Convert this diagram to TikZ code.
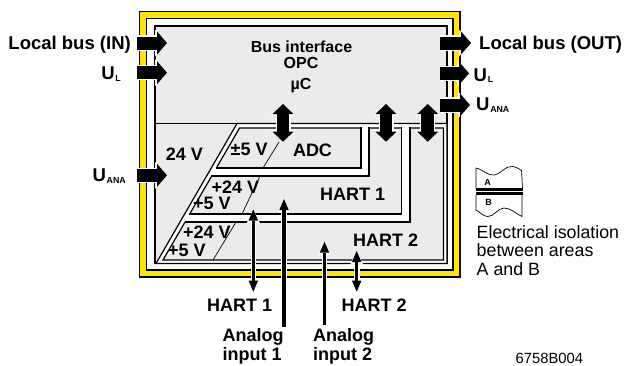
\documentclass[tikz,border=0pt]{standalone}
\usepackage{fontspec}
\setmainfont{Liberation Sans}
\usetikzlibrary{arrows.meta}
\definecolor{ybar}{RGB}{255,230,0}
\definecolor{regiongrey}{RGB}{235,235,235}
\newcommand\lowsub[1]{\kern0.7pt\raisebox{-1.6pt}{\fontsize{8.8}{9}\selectfont\bfseries #1}}
\begin{document}
\begin{tikzpicture}[x=1pt,y=-1pt,
  frameline/.style={draw=black, line width=1.3pt},
  region/.style={draw=black, line width=1.2pt, fill=regiongrey},
  gapfill/.style={fill=white, draw=black, line width=1.2pt},
  bandfill/.style={fill=white},
  edge/.style={draw=black, line width=1.2pt},
  thinline/.style={draw=black, line width=0.7pt},
  lbl/.style={font=\fontsize{18}{18.3}\selectfont\bfseries, inner sep=0pt},
  lblbig/.style={font=\fontsize{18.5}{19}\selectfont\bfseries, inner sep=0pt},
  lblsm/.style={font=\fontsize{16}{17}\selectfont\bfseries, inner sep=0pt},
  txt/.style={font=\fontsize{17.8}{18.5}\selectfont, inner sep=0pt},
  txtsm/.style={font=\fontsize{14.8}{15}\selectfont, inner sep=0pt},
  abl/.style={font=\fontsize{9}{9}\selectfont\bfseries, inner sep=0pt},
  bigarr/.style={line width=13pt, -{Triangle[width=23pt,length=10pt,line width=0pt]},
    preaction={draw=white, line width=15.4pt, -{Triangle[width=27pt,length=12pt,line width=0pt]}}},
  dblarr/.style={line width=12.5pt,
    {Triangle[width=21pt,length=10pt,line width=0pt]}-{Triangle[width=21pt,length=10pt,line width=0pt]},
    preaction={draw=white, line width=15pt,
      {Triangle[width=25pt,length=12pt,line width=0pt]}-{Triangle[width=25pt,length=12pt,line width=0pt]}}},
  thinarr/.style={line width=3.2pt, -{Triangle[width=9.5pt,length=11pt,line width=0pt]},
    preaction={draw=white, line width=5.6pt, -{Triangle[width=13pt,length=13.5pt,line width=0pt]}}},
  thindbl/.style={line width=3.2pt,
    {Triangle[width=9.5pt,length=11pt,line width=0pt]}-{Triangle[width=9.5pt,length=11pt,line width=0pt]},
    preaction={draw=white, line width=5.6pt,
      {Triangle[width=13pt,length=13.5pt,line width=0pt]}-{Triangle[width=13pt,length=13.5pt,line width=0pt]}}}
]
\useasboundingbox (0,0) rectangle (626,365);

% yellow isolation frame
\draw[frameline, fill=ybar] (139.5,11.5) rectangle (460,277);
\draw[frameline, fill=white] (146.5,18.5) rectangle (453,270);

% grey module box (bus interface + 24 V area)
\draw[region] (155,26) rectangle (447,263.5);
\draw[edge] (155,123.5) -- (237,123.5);
% isolation gap around the analog area
\draw[gapfill] (156,263.5) -- (237,123.5) -- (447,123.5) -- (447,263.5) -- cycle;
% analog area (HART 2 region)
\draw[region] (163,260) -- (239.56,128) -- (443.5,128) -- (443.5,260) -- cycle;

% gap around ADC
\fill[bandfill] (361,126.6) -- (369,126.6) -- (369,176) -- (210.0,176) -- (214.7,168) -- (361,168) -- cycle;
\draw[edge] (361,127.4) -- (361,168) -- (215.9,168);
\draw[edge] (369,127.4) -- (369,176) -- (211.2,176);
% gap around HART 1
\fill[bandfill] (401.5,126.6) -- (410,126.6) -- (410,222) -- (183.4,222) -- (188.0,214) -- (401.5,214) -- cycle;
\draw[edge] (401.5,127.4) -- (401.5,214) -- (189.2,214);
\draw[edge] (410,127.4) -- (410,222) -- (184.6,222);

% thin separating strokes
\draw[thinline] (279,142) -- (263,168);
\draw[thinline] (260,176) -- (242,214);
\draw[thinline] (236,222) -- (213,260);

% labels inside
\node[lblsm, anchor=base] (bus) at (301.5,52.3) {Bus interface};
\node[lblsm, anchor=base] (opc) at (301,68.3) {OPC};
\node[lblsm, anchor=base] (uc) at (301,89.3) {µC};
\node[lbl, anchor=base] (v24) at (184.5,160) {24 V};
\node[lbl, anchor=base west] (pm5) at (230.5,155) {±5 V};
\node[lbl, anchor=base] (adc) at (312.5,156.7) {ADC};
\node[lbl, anchor=base west] (p24a) at (211.5,193.3) {+24 V};
\node[lbl, anchor=base west] (p5a) at (193,209.3) {+5 V};
\node[lbl, anchor=base west] (p24b) at (183,238.3) {+24 V};
\node[lbl, anchor=base west] (p5b) at (168,256) {+5 V};
\node[lbl, anchor=base west] (h1in) at (320,200) {HART 1};
\node[lbl, anchor=base west] (h2in) at (353,246.7) {HART 2};

% labels outside
\node[lblbig, anchor=base east] (lbin) at (131,49.3) {Local bus (IN)};
\node[lblbig, anchor=base east] (ulin) at (121,79.5) {U\lowsub{L}};
\node[lblbig, anchor=base east] (uanain) at (126,181.7) {U\lowsub{ANA}};
\node[lblbig, anchor=base west] (lbout) at (479,49.3) {Local bus (OUT)};
\node[lblbig, anchor=base west] (ulout) at (473.5,81) {U\lowsub{L}};
\node[lblbig, anchor=base west] (uanaout) at (476,110.5) {U\lowsub{ANA}};
\node[lbl, anchor=base west] (h1out) at (207,311.7) {HART 1};
\node[lbl, anchor=base west] (h2out) at (341.5,311.7) {HART 2};
\node[lbl, anchor=base west, align=left] (an1) at (222.5,360) {Analog\\input 1};
\node[lbl, anchor=base west, align=left] (an2) at (313,360) {Analog\\input 2};
\node[txt, anchor=base west, align=left] (iso) at (476.5,275.3) {Electrical isolation\\between areas\\A and B};
\node[txtsm, anchor=base west] (code) at (515.5,363.3) {6758B004};

% isolation symbol
\draw[line width=0.7pt, fill=white] (476,188.5) -- (476,168) .. controls (484,170) and (488,176) .. (494,175) .. controls (501,174) and (506,165) .. (513,166.5) .. controls (517,167.5) and (520,169) .. (521.5,170.5) -- (522.5,188.5);
\draw[line width=0.7pt, fill=white] (476,195) -- (476,210) .. controls (480,212) and (483,216.5) .. (488,216.5) .. controls (494,216.5) and (498,208) .. (504,208) .. controls (511,208) and (516,214) .. (522,216.5) -- (522,195);
\fill (476,187.8) rectangle (522.8,190.5);
\fill (476,192.4) rectangle (522.8,195.1);
\node[abl] (la) at (487.5,182) {A};
\node[abl] (lb) at (488.5,202.5) {B};

% block arrows
\coordinate (lbinS) at (137,43);   \coordinate (lbinT) at (167,43);
\coordinate (ulinS) at (137,72.7); \coordinate (ulinT) at (167,72.7);
\coordinate (uaS) at (137,175.3);  \coordinate (uaT) at (167,175.3);
\coordinate (lboS) at (440,43);    \coordinate (lboT) at (471,43);
\coordinate (uloS) at (440,73.3);  \coordinate (uloT) at (469,73.3);
\coordinate (uaoS) at (440,105);   \coordinate (uaoT) at (470,105);
\draw[bigarr] (lbinS) -- (lbinT);
\draw[bigarr] (ulinS) -- (ulinT);
\draw[bigarr] (uaS) -- (uaT);
\draw[bigarr] (lboS) -- (lboT);
\draw[bigarr] (uloS) -- (uloT);
\draw[bigarr] (uaoS) -- (uaoT);

% bus <-> areas
\coordinate (d1a) at (283,104);   \coordinate (d1b) at (283,141.7);
\coordinate (d2a) at (386,104);   \coordinate (d2b) at (386,141.7);
\coordinate (d3a) at (427.7,104); \coordinate (d3b) at (427.7,141.7);
\draw[dblarr] (d1a) -- (d1b);
\draw[dblarr] (d2a) -- (d2b);
\draw[dblarr] (d3a) -- (d3b);

% field connections
\coordinate (h1t) at (253.3,209.5); \coordinate (h1b) at (253.3,291.7);
\coordinate (a1t) at (284,199);     \coordinate (a1b) at (284,326.7);
\coordinate (a2t) at (324.5,241.7); \coordinate (a2b) at (324.5,325);
\coordinate (h2t) at (356.7,251);   \coordinate (h2b) at (356.7,291.7);
\draw[thindbl] (h1t) -- (h1b);
\draw[thinarr] (a1b) -- (a1t);
\draw[thinarr] (a2b) -- (a2t);
\draw[thindbl] (h2t) -- (h2b);
\end{tikzpicture}
\end{document}
